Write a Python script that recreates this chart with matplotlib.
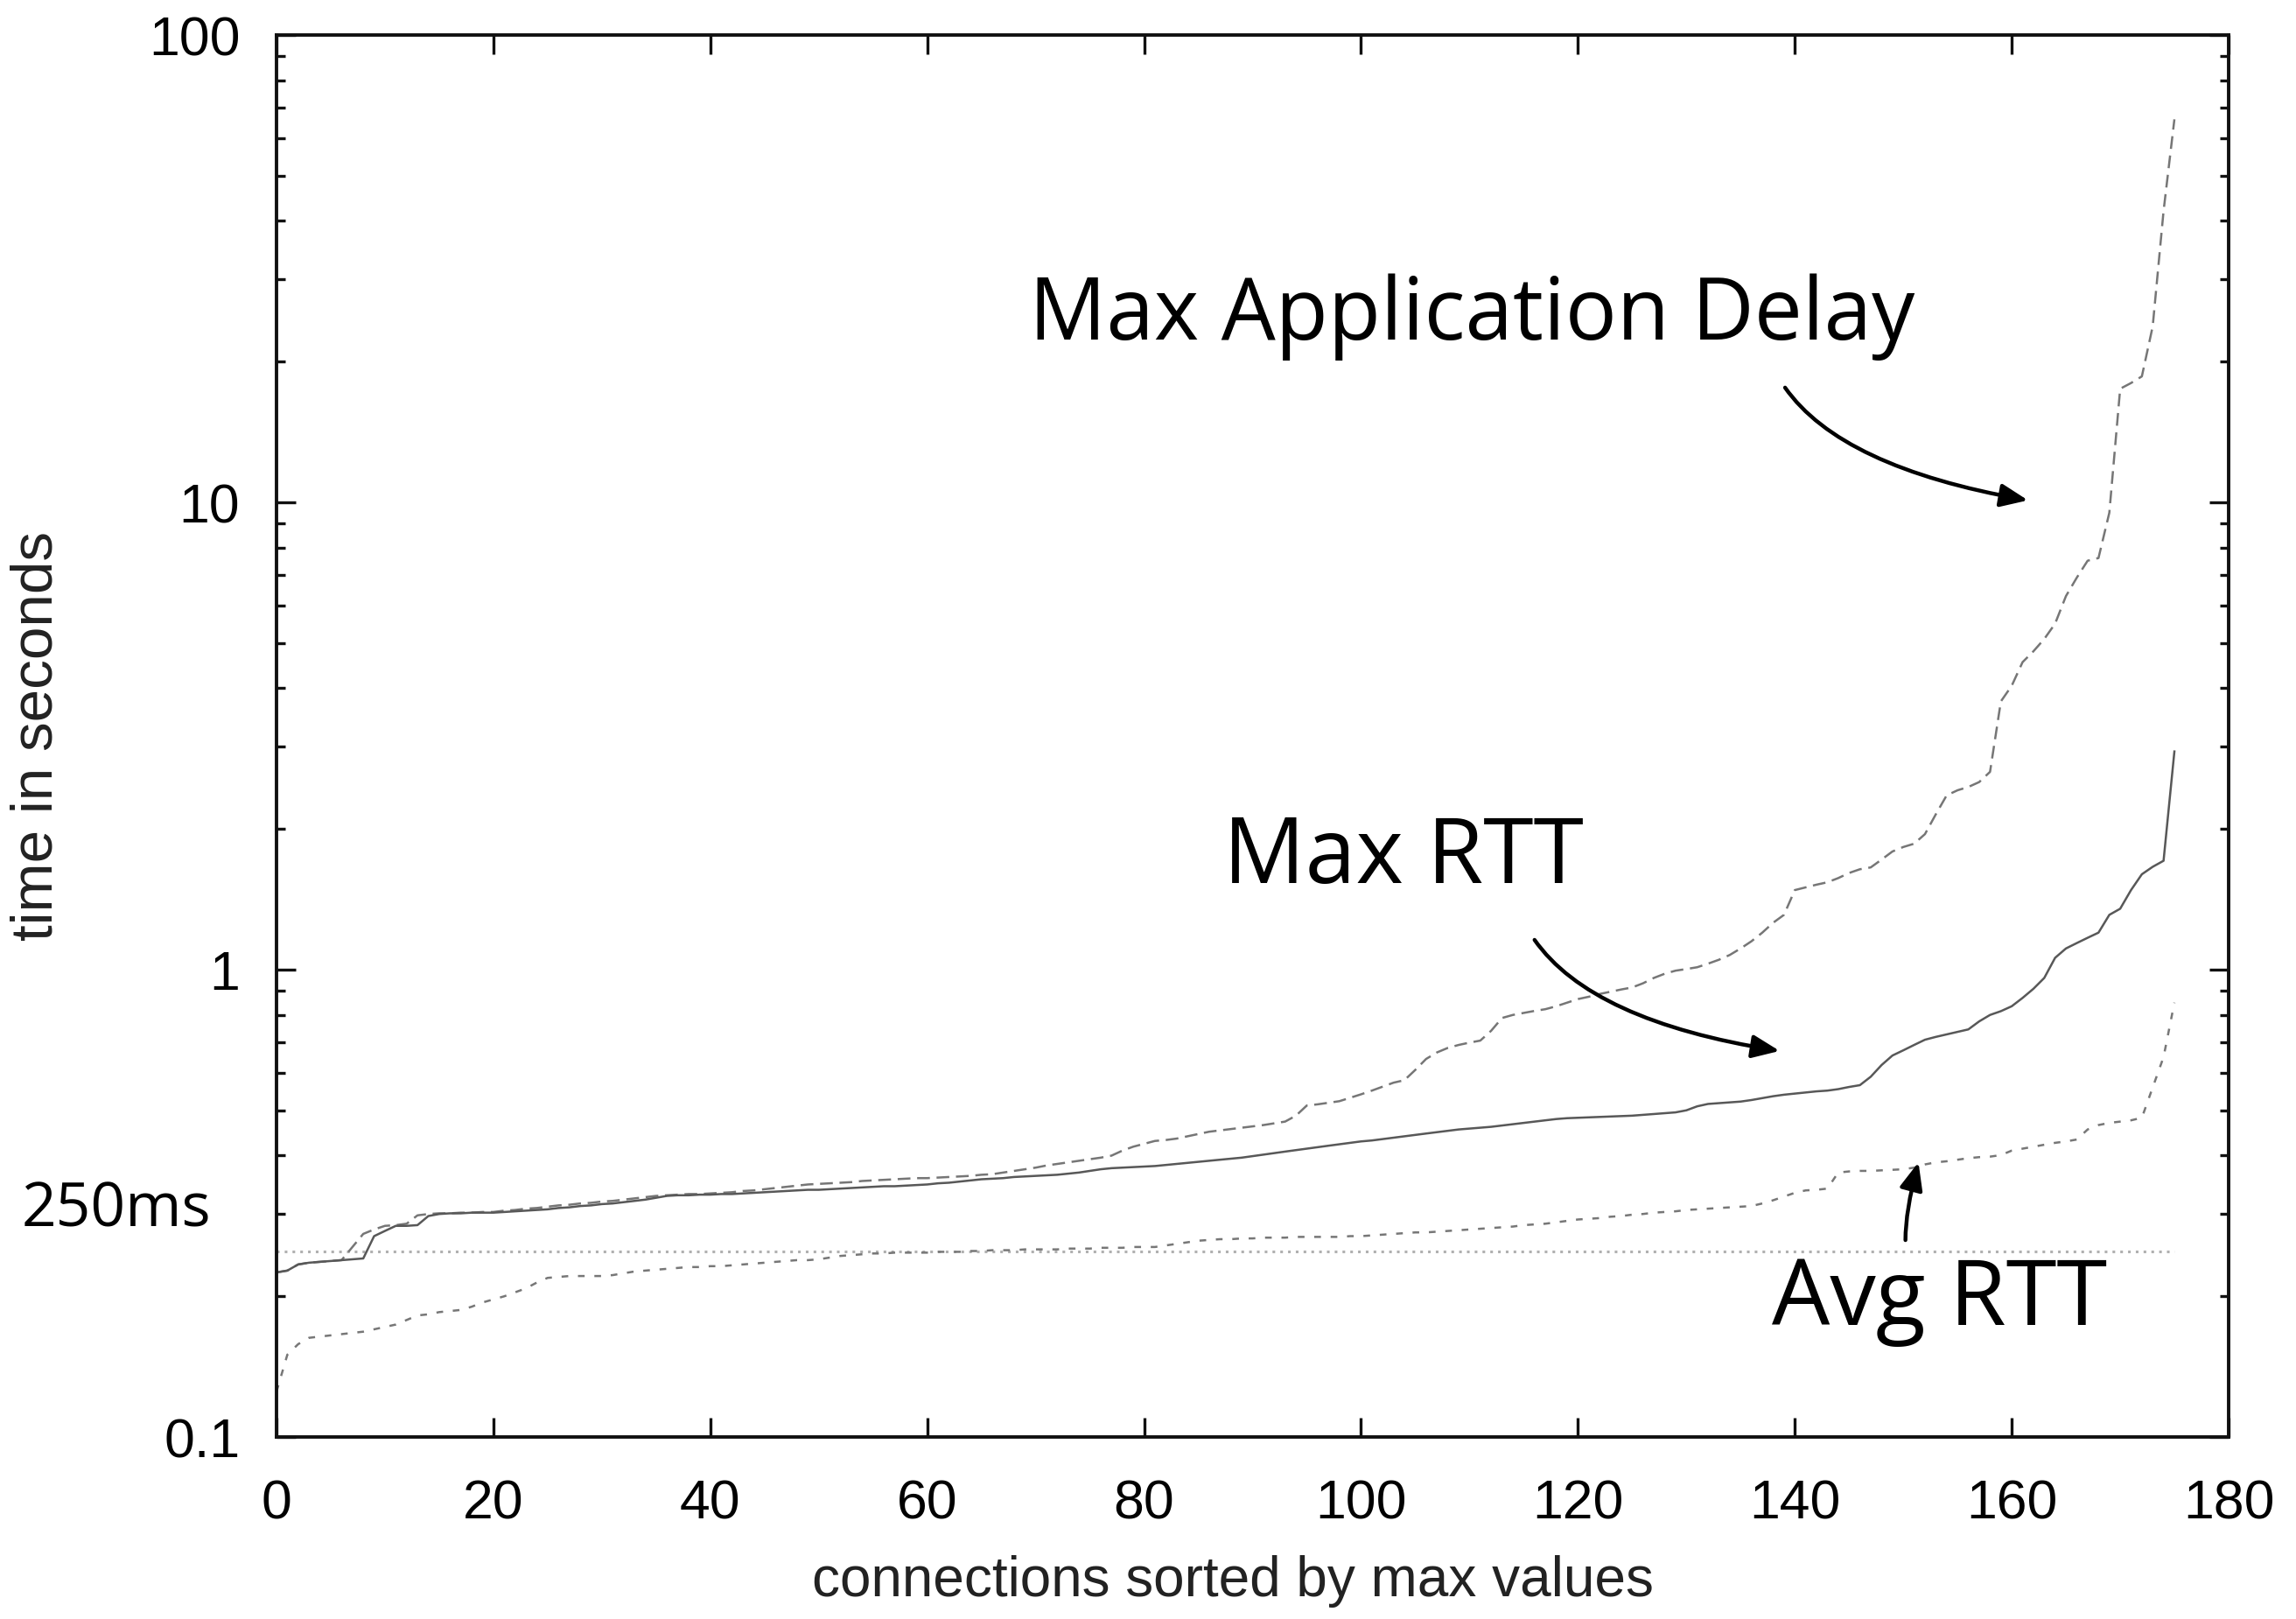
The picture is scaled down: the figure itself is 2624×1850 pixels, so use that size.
import matplotlib
matplotlib.use("Agg")
import matplotlib.pyplot as plt
import numpy as np
from matplotlib.ticker import LogLocator, NullFormatter, FixedLocator, FixedFormatter

plt.rcParams['lines.scale_dashes'] = False

# ---------------- data ----------------
max_app_delay = [
    0.225, 0.227, 0.234, 0.236, 0.237, 0.238, 0.239, 0.255, 0.272, 0.278,
    0.283, 0.284, 0.286, 0.298, 0.300, 0.301, 0.301, 0.302, 0.302, 0.303,
    0.303, 0.305, 0.306, 0.308, 0.309, 0.311, 0.313, 0.314, 0.316, 0.317,
    0.319, 0.320, 0.322, 0.324, 0.326, 0.328, 0.329, 0.330, 0.331, 0.331,
    0.332, 0.333, 0.334, 0.336, 0.337, 0.339, 0.341, 0.343, 0.345, 0.347,
    0.348, 0.349, 0.350, 0.351, 0.353, 0.354, 0.355, 0.356, 0.357, 0.358,
    0.358, 0.359, 0.360, 0.361, 0.362, 0.364, 0.365, 0.368, 0.371, 0.374,
    0.377, 0.381, 0.384, 0.387, 0.390, 0.393, 0.396, 0.400, 0.410, 0.418,
    0.424, 0.430, 0.432, 0.435, 0.440, 0.445, 0.450, 0.453, 0.456, 0.459,
    0.462, 0.465, 0.469, 0.473, 0.487, 0.512, 0.515, 0.519, 0.523, 0.532,
    0.541, 0.551, 0.562, 0.573, 0.580, 0.610, 0.644, 0.665, 0.680, 0.690,
    0.698, 0.705, 0.740, 0.788, 0.800, 0.808, 0.816, 0.823, 0.835, 0.850,
    0.865, 0.875, 0.887, 0.897, 0.907, 0.916, 0.935, 0.960, 0.980, 0.995,
    1.003, 1.012, 1.030, 1.050, 1.075, 1.110, 1.150, 1.200, 1.260, 1.310,
    1.480, 1.500, 1.520, 1.538, 1.570, 1.610, 1.640, 1.655, 1.720, 1.790,
    1.830, 1.860, 1.950, 2.150, 2.360, 2.420, 2.460, 2.520, 2.650, 3.750,
    4.050, 4.550, 4.800, 5.100, 5.500, 6.300, 6.900, 7.500, 7.600, 9.500,
    17.5, 18.0, 18.6, 23.8, 42.0, 66.0,
]

max_rtt = [
    0.225, 0.227, 0.234, 0.236, 0.237, 0.238, 0.239, 0.240, 0.241, 0.269,
    0.276, 0.283, 0.283, 0.284, 0.297, 0.300, 0.301, 0.301, 0.302, 0.302,
    0.302, 0.303, 0.304, 0.305, 0.306, 0.307, 0.309, 0.310, 0.312, 0.313,
    0.315, 0.316, 0.318, 0.320, 0.322, 0.325, 0.328, 0.329, 0.329, 0.330,
    0.330, 0.331, 0.331, 0.332, 0.333, 0.334, 0.335, 0.336, 0.337, 0.338,
    0.338, 0.339, 0.340, 0.341, 0.342, 0.343, 0.344, 0.344, 0.345, 0.346,
    0.347, 0.349, 0.350, 0.352, 0.354, 0.356, 0.357, 0.358, 0.360, 0.361,
    0.362, 0.363, 0.364, 0.366, 0.368, 0.371, 0.374, 0.376, 0.377, 0.378,
    0.379, 0.380, 0.382, 0.384, 0.386, 0.388, 0.390, 0.392, 0.394, 0.396,
    0.399, 0.402, 0.405, 0.408, 0.411, 0.414, 0.417, 0.420, 0.423, 0.426,
    0.429, 0.431, 0.434, 0.437, 0.440, 0.443, 0.446, 0.449, 0.452, 0.455,
    0.457, 0.459, 0.461, 0.464, 0.467, 0.470, 0.473, 0.476, 0.479, 0.481,
    0.482, 0.483, 0.484, 0.485, 0.486, 0.487, 0.489, 0.491, 0.493, 0.495,
    0.500, 0.510, 0.516, 0.518, 0.520, 0.522, 0.526, 0.531, 0.536, 0.540,
    0.543, 0.546, 0.549, 0.551, 0.555, 0.561, 0.566, 0.590, 0.625, 0.655,
    0.672, 0.690, 0.708, 0.718, 0.727, 0.736, 0.745, 0.775, 0.800, 0.815,
    0.835, 0.870, 0.910, 0.960, 1.06, 1.11, 1.14, 1.17, 1.20, 1.31,
    1.35, 1.48, 1.60, 1.66, 1.71, 2.93,
]

avg_rtt = [
    0.125, 0.150, 0.158, 0.163, 0.164, 0.165, 0.166, 0.167, 0.168, 0.170,
    0.172, 0.174, 0.178, 0.182, 0.183, 0.185, 0.186, 0.187, 0.190, 0.194,
    0.197, 0.200, 0.204, 0.208, 0.214, 0.219, 0.220, 0.221, 0.221, 0.221,
    0.221, 0.222, 0.224, 0.226, 0.227, 0.228, 0.229, 0.230, 0.231, 0.231,
    0.232, 0.232, 0.233, 0.234, 0.235, 0.236, 0.237, 0.238, 0.239, 0.239,
    0.240, 0.242, 0.244, 0.245, 0.246, 0.247, 0.247, 0.248, 0.248, 0.248,
    0.248, 0.249, 0.249, 0.249, 0.250, 0.250, 0.251, 0.251, 0.251, 0.252,
    0.252, 0.252, 0.252, 0.253, 0.253, 0.253, 0.254, 0.254, 0.254, 0.255,
    0.255, 0.255, 0.257, 0.259, 0.261, 0.263, 0.264, 0.265, 0.265, 0.266,
    0.266, 0.267, 0.267, 0.267, 0.268, 0.268, 0.268, 0.268, 0.268, 0.269,
    0.269, 0.270, 0.271, 0.272, 0.273, 0.274, 0.274, 0.275, 0.276, 0.277,
    0.278, 0.279, 0.280, 0.281, 0.282, 0.284, 0.285, 0.286, 0.288, 0.290,
    0.292, 0.293, 0.294, 0.296, 0.297, 0.299, 0.300, 0.302, 0.303, 0.304,
    0.306, 0.307, 0.308, 0.309, 0.310, 0.311, 0.312, 0.316, 0.321, 0.327,
    0.333, 0.337, 0.338, 0.340, 0.368, 0.370, 0.371, 0.371, 0.372, 0.373,
    0.374, 0.377, 0.383, 0.387, 0.389, 0.392, 0.395, 0.397, 0.398, 0.401,
    0.410, 0.414, 0.418, 0.422, 0.426, 0.429, 0.433, 0.455, 0.465, 0.470,
    0.473, 0.476, 0.482, 0.560, 0.650, 0.850,
]

threshold_value = 0.25          # the 250 ms reference line
threshold_span = [0, 175]
x_ticks = [0, 20, 40, 60, 80, 100, 120, 140, 160, 180]
y_ticks = [0.1, 1, 10, 100]
y_tick_labels = ["0.1", "1", "10", "100"]
x_label = "connections sorted by max values"
y_label = "time in seconds"

# ---------------- figure ----------------
W, H = 2624, 1850
fig = plt.figure(figsize=(W / 100, H / 100), dpi=100)
ax = fig.add_axes([316 / W, 1 - 1642 / H, 2231 / W, 1602 / H])

conn = np.arange(len(max_rtt))

ax.hlines(threshold_value, threshold_span[0], threshold_span[1],
          colors="#b0b0b0", linewidth=2.2, linestyles=(0, (2.2, 4.2)))
ax.plot(conn, avg_rtt, color="#777777", linewidth=1.8,
        linestyle=(0, (5.5, 8.0)))
ax.plot(conn, max_app_delay, color="#767676", linewidth=1.8,
        linestyle=(0, (10.5, 5.5)))
ax.plot(conn, max_rtt, color="#585858", linewidth=1.8, linestyle="-")

ax.set_yscale("log")
ax.set_xlim(0, 180)
ax.set_ylim(0.1, 100)

ax.xaxis.set_major_locator(FixedLocator(x_ticks))
ax.yaxis.set_major_locator(FixedLocator(y_ticks))
ax.yaxis.set_major_formatter(FixedFormatter(y_tick_labels))
ax.yaxis.set_minor_locator(LogLocator(base=10, subs=np.arange(2, 10)))
ax.yaxis.set_minor_formatter(NullFormatter())

tick_font = "Liberation Sans"
ax.tick_params(which="both", direction="in", top=True, right=True,
               width=2.4, color="#111111")
ax.tick_params(which="major", length=16)
ax.tick_params(which="minor", length=7.5)
ax.tick_params(axis="y", pad=30, labelsize=45)
ax.tick_params(axis="x", pad=34, labelsize=45)
for lab in ax.get_xticklabels() + ax.get_yticklabels():
    lab.set_family(tick_font)
for sp in ax.spines.values():
    sp.set_linewidth(2.8)
    sp.set_color("#111111")

ax.set_xlabel(x_label, fontsize=46, family=tick_font, color="#222222")
ax.xaxis.set_label_coords(0.49, -0.103)
ax.xaxis.label.set_va("center")
ax.set_ylabel(y_label, fontsize=48.5, family=tick_font, color="#222222")
ax.yaxis.set_label_coords(-0.1228, 0.5)
ax.yaxis.label.set_va("center")

# ---------------- annotations ----------------
ann_font = "Open Sans"
ax.text(69.4, 22.3, "Max Application Delay", fontsize=70.7, family=ann_font,
        ha="left", va="baseline", color="black")
ax.text(87.3, 1.53, "Max RTT", fontsize=75, family=ann_font,
        ha="left", va="baseline", color="black")
ax.text(137.9, 0.1733, "Avg RTT", fontsize=75.5, family=ann_font,
        ha="left", va="baseline", color="black")
fig.text(25 / W, 1 - 1402 / H, "250ms", fontsize=50, family=ann_font,
         ha="left", va="baseline", color="black")

arrow_style = "-|>,head_length=1.9,head_width=0.8"
ax.annotate("", xy=(161.5, 10.1), xytext=(139.1, 17.6),
            arrowprops=dict(arrowstyle=arrow_style, color="black", lw=3.2,
                            shrinkA=0, shrinkB=0,
                            connectionstyle="angle3,angleA=-55,angleB=-10"))
ax.annotate("", xy=(138.6, 0.67), xytext=(116.0, 1.158),
            arrowprops=dict(arrowstyle=arrow_style, color="black", lw=3.2,
                            shrinkA=0, shrinkB=0,
                            connectionstyle="angle3,angleA=-55,angleB=-9"))
ax.annotate("", xy=(151.4, 0.387), xytext=(150.2, 0.2638),
            arrowprops=dict(arrowstyle=arrow_style, color="black", lw=3.2,
                            shrinkA=0, shrinkB=0,
                            connectionstyle="angle3,angleA=90,angleB=75"))

fig.savefig("out.png", dpi=100, facecolor="white")
